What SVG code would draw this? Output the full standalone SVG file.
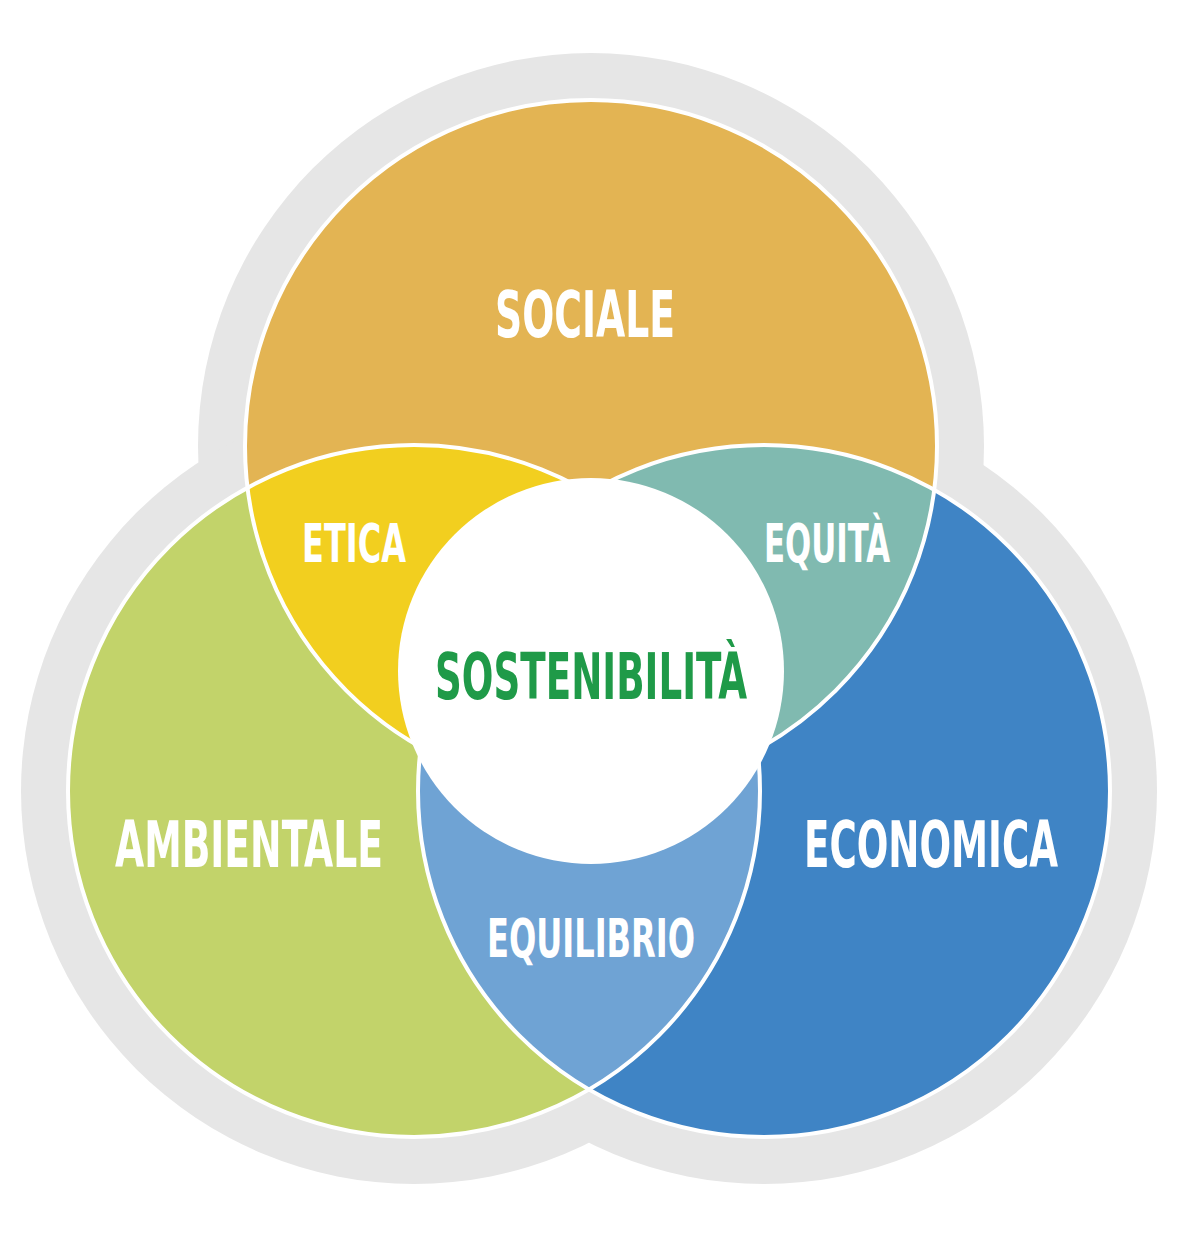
<svg xmlns="http://www.w3.org/2000/svg" width="1200" height="1253" viewBox="0 0 1200 1253">
<style>
.lbl{font-family:"DejaVu Sans","Liberation Sans",sans-serif;font-weight:bold;font-stretch:condensed;fill:#fff;text-anchor:middle}
.edge{fill:none;stroke:#fff;stroke-width:4}
</style>
<defs>
<clipPath id="cTop"><circle cx="591" cy="446" r="346"/></clipPath>
<clipPath id="cLeft"><circle cx="414" cy="791" r="346"/></clipPath>
<clipPath id="cRight"><circle cx="764" cy="791" r="346"/></clipPath>
</defs>
<rect width="1200" height="1253" fill="#fff"/>
<g id="outline" fill="#e6e6e6">
<circle cx="591" cy="446" r="393"/>
<circle cx="414" cy="791" r="393"/>
<circle cx="764" cy="791" r="393"/>
</g>
<g id="sociale"><circle cx="591" cy="446" r="346" fill="#e3b453"/></g>
<g id="ambientale"><circle cx="414" cy="791" r="346" fill="#c2d36a"/></g>
<g id="economica"><circle cx="764" cy="791" r="346" fill="#3f84c5"/></g>
<g id="etica" clip-path="url(#cTop)"><circle cx="414" cy="791" r="346" fill="#f2cf1f"/></g>
<g id="equita" clip-path="url(#cTop)"><circle cx="764" cy="791" r="346" fill="#80bab0"/></g>
<g id="equilibrio" clip-path="url(#cLeft)"><circle cx="764" cy="791" r="346" fill="#6fa3d4"/></g>
<g id="edges">
<circle class="edge" cx="591" cy="446" r="346"/>
<circle class="edge" cx="414" cy="791" r="346"/>
<circle class="edge" cx="764" cy="791" r="346"/>
</g>
<g id="sostenibilita"><circle cx="591" cy="671" r="193" fill="#fff"/>
<text class="lbl" x="591" y="699" font-size="64" textLength="312" lengthAdjust="spacingAndGlyphs" style="fill:#1f9a48">SOSTENIBILITÀ</text></g>
<text class="lbl" x="585" y="337" font-size="64" textLength="180" lengthAdjust="spacingAndGlyphs">SOCIALE</text>
<text class="lbl" x="354" y="562" font-size="54" textLength="104" lengthAdjust="spacingAndGlyphs">ETICA</text>
<text class="lbl" x="827" y="562" font-size="54" textLength="126" lengthAdjust="spacingAndGlyphs">EQUITÀ</text>
<text class="lbl" x="249" y="867" font-size="64" textLength="268" lengthAdjust="spacingAndGlyphs">AMBIENTALE</text>
<text class="lbl" x="931" y="867" font-size="64" textLength="254" lengthAdjust="spacingAndGlyphs">ECONOMICA</text>
<text class="lbl" x="591" y="957" font-size="54" textLength="208" lengthAdjust="spacingAndGlyphs">EQUILIBRIO</text>
</svg>
